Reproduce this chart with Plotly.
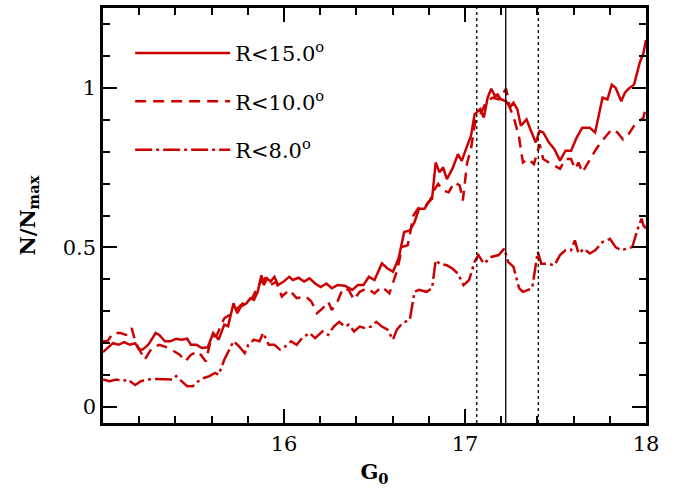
import plotly.graph_objects as go

# ---------------- data ----------------
g15 = [15.000, 15.025, 15.055, 15.086, 15.117, 15.148, 15.178, 15.199, 15.219, 15.250,
       15.291, 15.311, 15.342, 15.373, 15.404, 15.434, 15.465, 15.486, 15.516, 15.547,
       15.578, 15.609, 15.639, 15.670, 15.691, 15.721, 15.742, 15.762, 15.793, 15.814,
       15.834, 15.855, 15.875, 15.889, 15.906, 15.926, 15.947, 15.967, 15.998, 16.029,
       16.049, 16.080, 16.111, 16.141, 16.172, 16.203, 16.234, 16.264, 16.295, 16.336,
       16.377, 16.408, 16.439, 16.469, 16.500, 16.541, 16.572, 16.602, 16.633, 16.664,
       16.695, 16.721, 16.746, 16.777, 16.797, 16.818, 16.838, 16.859, 16.879, 16.900,
       16.930, 16.961, 16.982, 17.012, 17.033, 17.053, 17.084, 17.104, 17.125, 17.145,
       17.166, 17.180, 17.197, 17.227, 17.248, 17.268, 17.289, 17.309, 17.340, 17.361,
       17.391, 17.412, 17.432, 17.463, 17.494, 17.525, 17.555, 17.586, 17.617, 17.648,
       17.689, 17.719, 17.760, 17.787, 17.811, 17.832, 17.863, 17.883, 17.904, 17.934,
       17.965, 17.986, 18.000]
n15 = [0.172, 0.185, 0.200, 0.195, 0.203, 0.195, 0.200, 0.180, 0.180, 0.195,
       0.232, 0.226, 0.206, 0.206, 0.214, 0.211, 0.214, 0.195, 0.195, 0.185,
       0.187, 0.232, 0.211, 0.258, 0.253, 0.325, 0.294, 0.315, 0.325, 0.341,
       0.336, 0.361, 0.413, 0.382, 0.403, 0.393, 0.408, 0.382, 0.393, 0.408,
       0.398, 0.405, 0.393, 0.403, 0.387, 0.376, 0.387, 0.372, 0.382, 0.380,
       0.367, 0.382, 0.382, 0.408, 0.398, 0.450, 0.434, 0.424, 0.465, 0.548,
       0.553, 0.579, 0.621, 0.621, 0.642, 0.652, 0.766, 0.735, 0.751, 0.714,
       0.746, 0.792, 0.771, 0.818, 0.849, 0.917, 0.933, 0.907, 0.969, 0.997,
       0.974, 0.979, 0.964, 0.958, 0.938, 0.953, 0.933, 0.881, 0.901, 0.870,
       0.829, 0.865, 0.860, 0.829, 0.808, 0.772, 0.803, 0.803, 0.844, 0.875,
       0.875, 0.860, 0.969, 0.964, 1.010, 1.000, 0.958, 0.984, 0.997, 1.010,
       1.078, 1.109, 1.150]

g10 = [15.000, 15.025, 15.055, 15.096, 15.127, 15.158, 15.178, 15.230, 15.270, 15.311,
       15.363, 15.393, 15.424, 15.455, 15.486, 15.527, 15.568, 15.598, 15.629, 15.670,
       15.701, 15.742, 15.783, 15.824, 15.865, 15.895, 15.926, 15.957, 15.988, 16.029,
       16.070, 16.121, 16.152, 16.182, 16.213, 16.244, 16.264, 16.295, 16.326, 16.357,
       16.387, 16.418, 16.459, 16.500, 16.541, 16.582, 16.623, 16.654, 16.684, 16.715,
       16.746, 16.777, 16.807, 16.828, 16.852, 16.879, 16.910, 16.941, 16.971, 16.988,
       17.012, 17.033, 17.057, 17.084, 17.115, 17.135, 17.156, 17.186, 17.227, 17.248,
       17.275, 17.299, 17.320, 17.350, 17.381, 17.412, 17.432, 17.463, 17.494, 17.525,
       17.555, 17.586, 17.607, 17.627, 17.648, 17.689, 17.719, 17.750, 17.781, 17.811,
       17.842, 17.873, 17.904, 17.934, 17.965, 17.986, 18.000]
n10 = [0.206, 0.206, 0.232, 0.232, 0.226, 0.247, 0.206, 0.148, 0.185, 0.195,
       0.185, 0.174, 0.164, 0.143, 0.164, 0.174, 0.143, 0.216, 0.226, 0.278,
       0.289, 0.309, 0.330, 0.341, 0.387, 0.403, 0.382, 0.393, 0.346, 0.367,
       0.341, 0.346, 0.330, 0.294, 0.309, 0.330, 0.304, 0.330, 0.372, 0.367,
       0.336, 0.361, 0.372, 0.356, 0.377, 0.356, 0.424, 0.502, 0.507, 0.600,
       0.626, 0.626, 0.647, 0.678, 0.699, 0.678, 0.673, 0.704, 0.694, 0.647,
       0.766, 0.808, 0.896, 0.917, 0.953, 0.964, 0.969, 0.964, 0.997, 0.938,
       0.896, 0.844, 0.766, 0.777, 0.761, 0.823, 0.777, 0.766, 0.756, 0.746,
       0.777, 0.777, 0.746, 0.766, 0.735, 0.777, 0.803, 0.829, 0.849, 0.870,
       0.860, 0.838, 0.855, 0.881, 0.896, 0.907, 0.943]

g8 = [15.000, 15.035, 15.076, 15.107, 15.137, 15.178, 15.209, 15.250, 15.291, 15.342,
      15.383, 15.404, 15.434, 15.465, 15.496, 15.527, 15.557, 15.588, 15.619, 15.639,
      15.670, 15.701, 15.721, 15.752, 15.783, 15.803, 15.834, 15.865, 15.885, 15.916,
      15.947, 15.977, 16.008, 16.039, 16.070, 16.100, 16.141, 16.172, 16.213, 16.244,
      16.275, 16.305, 16.336, 16.357, 16.387, 16.418, 16.449, 16.480, 16.510, 16.541,
      16.572, 16.602, 16.623, 16.654, 16.695, 16.721, 16.746, 16.787, 16.818, 16.838,
      16.859, 16.900, 16.930, 16.961, 16.992, 17.023, 17.053, 17.074, 17.104, 17.145,
      17.186, 17.217, 17.238, 17.268, 17.299, 17.320, 17.350, 17.371, 17.402, 17.422,
      17.453, 17.494, 17.525, 17.555, 17.586, 17.607, 17.627, 17.658, 17.689, 17.719,
      17.760, 17.801, 17.832, 17.863, 17.893, 17.924, 17.955, 17.975, 17.986, 18.000]
n8 = [0.086, 0.081, 0.086, 0.081, 0.086, 0.069, 0.081, 0.086, 0.088, 0.086,
      0.086, 0.097, 0.081, 0.065, 0.065, 0.081, 0.091, 0.097, 0.107, 0.101,
      0.148, 0.185, 0.206, 0.190, 0.169, 0.195, 0.211, 0.206, 0.232, 0.195,
      0.195, 0.180, 0.190, 0.206, 0.195, 0.216, 0.232, 0.216, 0.237, 0.226,
      0.252, 0.267, 0.252, 0.258, 0.237, 0.252, 0.247, 0.252, 0.267, 0.252,
      0.242, 0.211, 0.242, 0.263, 0.273, 0.361, 0.367, 0.361, 0.372, 0.460,
      0.449, 0.444, 0.434, 0.418, 0.382, 0.398, 0.455, 0.476, 0.449, 0.470,
      0.476, 0.496, 0.455, 0.439, 0.372, 0.361, 0.367, 0.372, 0.486, 0.449,
      0.449, 0.444, 0.476, 0.491, 0.491, 0.522, 0.481, 0.496, 0.481, 0.491,
      0.517, 0.527, 0.501, 0.491, 0.496, 0.501, 0.559, 0.590, 0.569, 0.559]

series_names = ["R<15.0<sup>o</sup>", "R<10.0<sup>o</sup>", "R<8.0<sup>o</sup>"]
ref_lines = [17.065, 17.225, 17.405]
ref_styles = ["dot", "solid", "dot"]
x_ticks = [16, 17, 18]
y_ticks = [0, 0.5, 1]
y_tick_labels = ["0", "0.5", "1"]

RED = "#cc0000"
FONT = "DejaVu Serif"

fig = go.Figure()
dashes = ["solid", "11px,7px", "17px,4px,3px,4px"]
for i, (gx, ny) in enumerate([(g15, n15), (g10, n10), (g8, n8)]):
    fig.add_trace(go.Scatter(
        x=gx, y=ny, mode="lines", name=series_names[i], legendgroup=f"g{i}",
        line=dict(color=RED, width=2.5, dash=dashes[i]),
    ))

for xv, st in zip(ref_lines, ref_styles):
    fig.add_shape(type="line", x0=xv, x1=xv, y0=0, y1=1, xref="x", yref="paper",
                  line=dict(color="black", width=1.3, dash=st))

axis_common = dict(
    showline=True, linecolor="black", linewidth=2.5, mirror="ticks",
    ticks="inside", ticklen=14, tickwidth=2, tickcolor="black",
    showgrid=False, zeroline=False,
    tickfont=dict(family=FONT, size=21, color="black"),
)

fig.update_xaxes(range=[15, 18], tickvals=x_ticks,
                 minor=dict(dtick=0.2, tick0=15, ticks="inside", ticklen=7, tickwidth=2, tickcolor="black"),
                 title=dict(text="G<sub>0</sub>", font=dict(family=FONT, size=21, color="black", weight="bold"), standoff=10),
                 **axis_common)
fig.update_yaxes(range=[-0.05, 1.25], tickvals=y_ticks, ticktext=y_tick_labels,
                 minor=dict(dtick=0.1, tick0=0, ticks="inside", ticklen=7, tickwidth=2, tickcolor="black"),
                 title=dict(text="N/N<sub>max</sub>", font=dict(family=FONT, size=21, color="black", weight="bold"), standoff=22),
                 **axis_common)

fig.update_layout(
    width=681, height=493,
    margin=dict(l=103, r=35, t=5, b=70),
    paper_bgcolor="white", plot_bgcolor="white",
    showlegend=True,
    legend=dict(x=0.05, y=0.94, xanchor="left", yanchor="top",
                bgcolor="rgba(0,0,0,0)", itemwidth=95, tracegroupgap=18,
                traceorder="grouped",
                font=dict(family=FONT, size=21, color="black")),
)

fig.write_html("out.html")
